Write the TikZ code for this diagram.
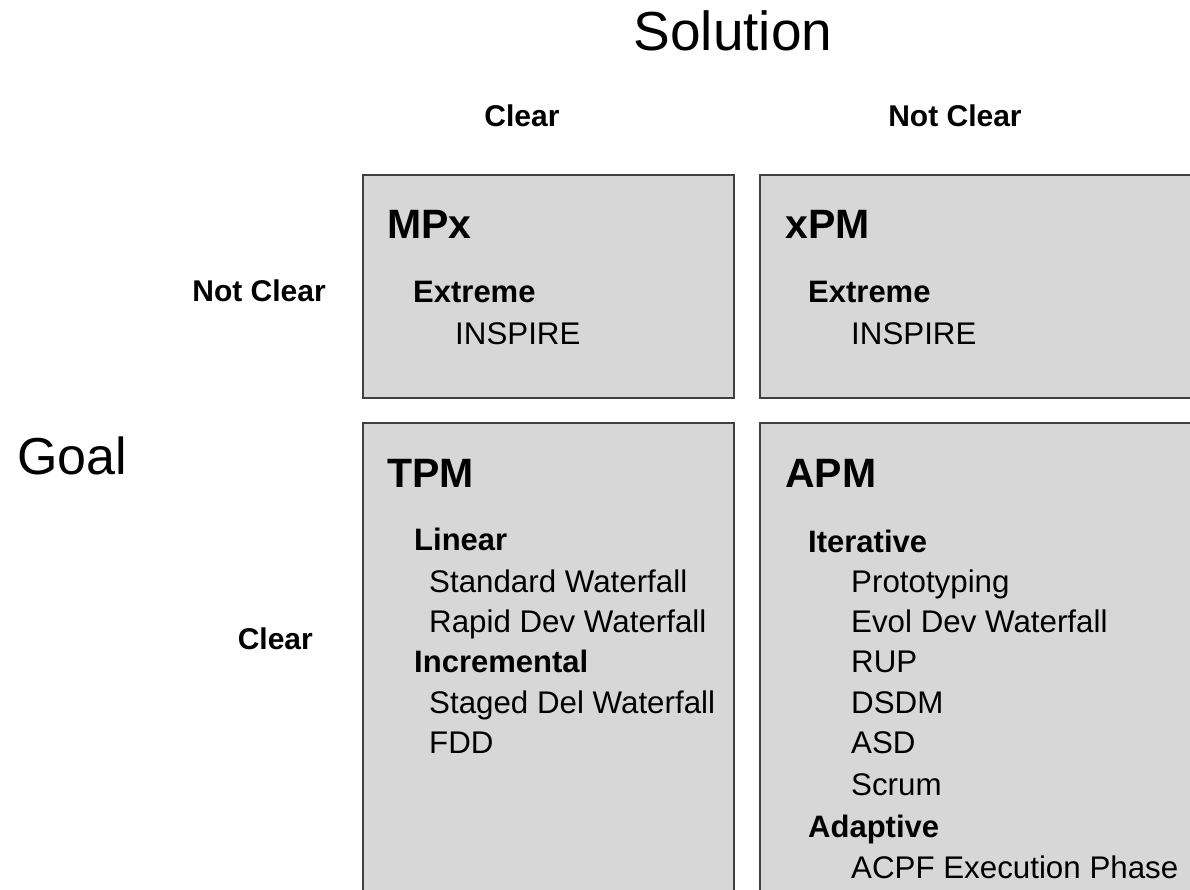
\documentclass[tikz,border=0pt]{standalone}
\usepackage{fontspec}
\setmainfont{Liberation Sans}
\definecolor{boxfill}{HTML}{D7D7D7}
\definecolor{boxline}{HTML}{404040}
\begin{document}
\begin{tikzpicture}[x=1pt,y=-1pt,
  quad/.style={draw=boxline, fill=boxfill, line width=1.5pt, rectangle, inner sep=0pt, anchor=north west},
  bigtitle/.style={font=\fontsize{55}{62}\selectfont, inner sep=0pt},
  colhead/.style={font=\bfseries\fontsize{30}{36}\selectfont, inner sep=0pt, anchor=base},
  rowhead/.style={font=\bfseries\fontsize{30}{36}\selectfont, inner sep=0pt, anchor=base east},
  boxtitle/.style={font=\bfseries\fontsize{41}{48}\selectfont, inner sep=0pt, anchor=base west},
  grouphead/.style={font=\bfseries\fontsize{31}{37}\selectfont, inner sep=0pt, anchor=base west},
  itemtext/.style={font=\fontsize{31.3}{37}\selectfont, inner sep=0pt, anchor=base west}]
\useasboundingbox (0,0) rectangle (1190,889);
\clip (0,0) rectangle (1190,889);
\fill[white] (0,0) rectangle (1190,889);

% headers
\node[bigtitle, anchor=base] (sol) at (733,50) {Solution};
\node[bigtitle, anchor=base west, font=\fontsize{52}{60}\selectfont] (goal) at (17,474) {Goal};
\node[colhead] (cclear) at (522,126) {Clear};
\node[colhead] (cnot) at (955,126) {Not Clear};
\node[rowhead] (rnot) at (326,301) {Not Clear};
\node[rowhead] (rclear) at (313,649) {Clear};

% boxes
\node[quad, minimum width=371pt, minimum height=223pt] (mpxbox) at (362,174) {};
\node[quad, minimum width=450pt, minimum height=223pt] (xpmbox) at (759,174) {};
\node[quad, minimum width=371pt, minimum height=500pt] (tpmbox) at (362,422) {};
\node[quad, minimum width=450pt, minimum height=500pt] (apmbox) at (759,422) {};

% MPx
\node[boxtitle] (mpx) at (387,238) {MPx};
\node[grouphead] (mpxext) at (413,302) {Extreme};
\node[itemtext] (mpxins) at (455,344) {INSPIRE};

% xPM
\node[boxtitle] (xpm) at (785,238) {xPM};
\node[grouphead] (xpmext) at (808,302) {Extreme};
\node[itemtext] (xpmins) at (851,344) {INSPIRE};

% TPM
\node[boxtitle] (tpm) at (387,487) {TPM};
\node[grouphead] (lin) at (414,550) {Linear};
\node[itemtext] (stdw) at (429,592) {Standard Waterfall};
\node[itemtext] (rapw) at (429,632) {Rapid Dev Waterfall};
\node[grouphead] (incr) at (414,672) {Incremental};
\node[itemtext] (stgw) at (429,713) {Staged Del Waterfall};
\node[itemtext] (fdd) at (429,753) {FDD};

% APM
\node[boxtitle] (apm) at (785,487) {APM};
\node[grouphead] (iter) at (808,552) {Iterative};
\node[itemtext] (proto) at (851,592) {Prototyping};
\node[itemtext] (evol) at (851,632) {Evol Dev Waterfall};
\node[itemtext] (rup) at (851,672) {RUP};
\node[itemtext] (dsdm) at (851,713) {DSDM};
\node[itemtext] (asd) at (851,753) {ASD};
\node[itemtext] (scrum) at (851,795) {Scrum};
\node[grouphead] (adapt) at (808,837) {Adaptive};
\node[itemtext] (acpf) at (851,878) {ACPF Execution Phase};
\end{tikzpicture}
\end{document}
